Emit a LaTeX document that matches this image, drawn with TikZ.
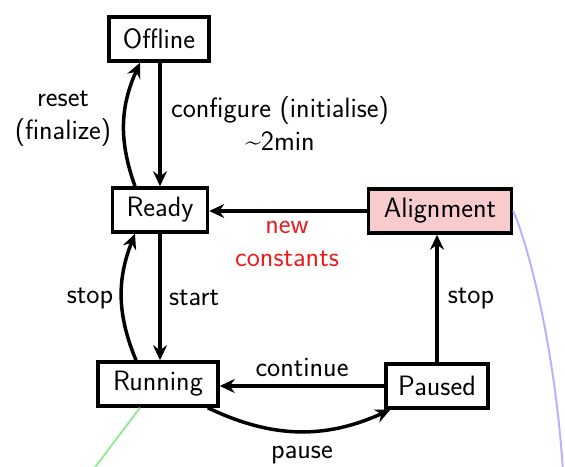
\documentclass[tikz,border=0pt]{standalone}
\usetikzlibrary{arrows.meta}
\definecolor{pinkfill}{RGB}{248,204,204}
\definecolor{redtxt}{RGB}{232,30,30}
\definecolor{blueline}{RGB}{180,180,255}
\definecolor{greenline}{RGB}{150,235,150}
\begin{document}
\begin{tikzpicture}[x=1pt,y=-1pt,
  font=\sffamily\fontsize{28}{33}\selectfont,
  state/.style={draw,line width=3.5pt,inner sep=0pt,minimum height=44pt},
  lbl/.style={inner sep=0pt,align=center},
  arr/.style={line width=3.5pt,-{Stealth[length=15pt,width=14pt,inset=5pt]}}]
\useasboundingbox (0,0) rectangle (565,466);
\begin{scope}
\clip (0,0) rectangle (565,466);
\node[state,minimum width=100pt] (offline) at (159,39) {Offline};
\node[state,minimum width=95pt] (ready) at (160,210) {Ready};
\node[state,minimum width=143pt,fill=pinkfill] (align) at (440,211) {Alignment};
\node[state,minimum width=120pt] (running) at (158,384) {Running};
\node[state,minimum width=102pt] (paused) at (437,386) {Paused};
\coordinate (bend) at (563,472);
\coordinate (gend) at (93,470);
\draw[blueline,line width=2pt] (align.east) .. controls (532,255) and (556,360) .. (bend);
\draw[greenline,line width=2pt] ([xshift=-18pt]running.south) -- (gend);
\draw[arr] ([xshift=1pt]offline.south) -- ([xshift=1pt]offline.south |- ready.north);
\draw[arr] ([xshift=-25pt]ready.north) to[bend left=22] ([xshift=-19pt]offline.south);
\draw[arr] (ready.south) -- (ready.south |- running.north);
\draw[arr] ([xshift=-22pt]running.north) to[bend left=22] ([xshift=-25pt]ready.south);
\draw[arr] (align.west) -- (align.west -| ready.east);
\draw[arr] (paused.north) -- (paused.north |- align.south);
\draw[arr] (paused.west) -- (paused.west -| running.east);
\draw[arr] ([xshift=-12pt]running.south east) to[bend right=25] ([xshift=6pt]paused.south west);
\end{scope}
\node[lbl] (reset) at (63,119) {reset\\(finalize)};
\node[lbl] (config) at (280,124) {configure (initialise)\\\textasciitilde2min};
\node[lbl,text=redtxt] (newc) at (287,244) {new\\constants};
\node[lbl] (stop1) at (90,298) {stop};
\node[lbl] (start) at (194,298) {start};
\node[lbl] (stop2) at (471,298) {stop};
\node[lbl] (cont) at (302,368) {continue};
\node[lbl] (pause) at (302,455) {pause};
\end{tikzpicture}
\end{document}
